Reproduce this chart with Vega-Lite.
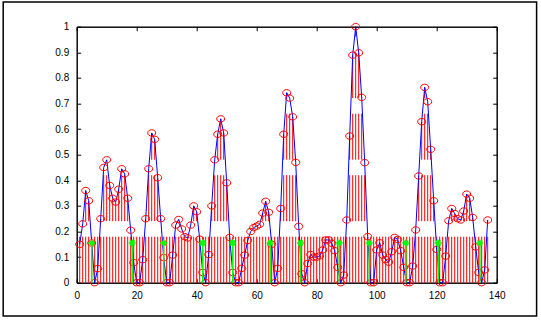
{
  "$schema": "https://vega.github.io/schema/vega-lite/v6.json",
  "width": 420,
  "height": 256,
  "autosize": "none",
  "padding": {"left": 76.7, "top": 26.7, "right": 44.3, "bottom": 37.3},
  "background": "white",
  "config": {
    "view": {"stroke": "black", "strokeWidth": 1},
    "axis": {"domainColor": "black", "domainWidth": 1, "tickColor": "black", "tickSize": -4, "tickWidth": 1, "labelFont": "Liberation Sans", "labelFontSize": 10, "labelColor": "black", "grid": false, "labelPadding": 12, "labelOverlap": false, "labelFlush": false}
  },
  "datasets": {
    "d": [
      {"x":1,"y":0.15,"s":0.2},{"x":2,"y":0.23,"s":0.23},{"x":3,"y":0.36,"s":0.36},{"x":4,"y":0.32,"s":0.32},{"x":5,"y":0.155,"s":0.2},
      {"x":6,"y":0,"s":0.2},{"x":7,"y":0.055,"s":0.2},{"x":8,"y":0.25,"s":0.25},{"x":9,"y":0.45,"s":0.45},{"x":10,"y":0.48,"s":0.48},
      {"x":11,"y":0.38,"s":0.38},{"x":12,"y":0.33,"s":0.33},{"x":13,"y":0.315,"s":0.315},{"x":14,"y":0.365,"s":0.365},{"x":15,"y":0.445,"s":0.445},
      {"x":16,"y":0.425,"s":0.425},{"x":17,"y":0.33,"s":0.33},{"x":18,"y":0.205,"s":0.205},{"x":19,"y":0.078,"s":0.2},{"x":20,"y":0,"s":0.2},
      {"x":21,"y":0,"s":0.2},{"x":22,"y":0.09,"s":0.2},{"x":23,"y":0.25,"s":0.25},{"x":24,"y":0.445,"s":0.445},{"x":25,"y":0.585,"s":0.585},
      {"x":26,"y":0.56,"s":0.56},{"x":27,"y":0.41,"s":0.41},{"x":28,"y":0.25,"s":0.25},{"x":29,"y":0.098,"s":0.2},{"x":30,"y":0,"s":0.2},
      {"x":31,"y":0,"s":0.2},{"x":32,"y":0.108,"s":0.2},{"x":33,"y":0.225,"s":0.225},{"x":34,"y":0.247,"s":0.247},{"x":35,"y":0.21,"s":0.21},
      {"x":36,"y":0.18,"s":0.2},{"x":37,"y":0.175,"s":0.2},{"x":38,"y":0.225,"s":0.225},{"x":39,"y":0.3,"s":0.3},{"x":40,"y":0.277,"s":0.277},
      {"x":41,"y":0.17,"s":0.2},{"x":42,"y":0.04,"s":0.2},{"x":43,"y":0,"s":0.2},{"x":44,"y":0.11,"s":0.2},{"x":45,"y":0.3,"s":0.3},
      {"x":46,"y":0.48,"s":0.48},{"x":47,"y":0.58,"s":0.58},{"x":48,"y":0.64,"s":0.64},{"x":49,"y":0.585,"s":0.585},{"x":50,"y":0.39,"s":0.39},
      {"x":51,"y":0.177,"s":0.2},{"x":52,"y":0.04,"s":0.2},{"x":53,"y":0,"s":0.2},{"x":54,"y":0,"s":0.2},{"x":55,"y":0.056,"s":0.2},
      {"x":56,"y":0.108,"s":0.2},{"x":57,"y":0.165,"s":0.2},{"x":58,"y":0.2,"s":0.2},{"x":59,"y":0.215,"s":0.215},{"x":60,"y":0.221,"s":0.221},
      {"x":61,"y":0.228,"s":0.228},{"x":62,"y":0.272,"s":0.272},{"x":63,"y":0.318,"s":0.318},{"x":64,"y":0.275,"s":0.275},{"x":65,"y":0.15,"s":0.2},
      {"x":66,"y":0,"s":0.2},{"x":67,"y":0.056,"s":0.2},{"x":68,"y":0.29,"s":0.29},{"x":69,"y":0.58,"s":0.58},{"x":70,"y":0.742,"s":0.742},
      {"x":71,"y":0.721,"s":0.721},{"x":72,"y":0.648,"s":0.648},{"x":73,"y":0.47,"s":0.47},{"x":74,"y":0.22,"s":0.22},{"x":75,"y":0.035,"s":0.2},
      {"x":76,"y":0,"s":0.2},{"x":77,"y":0.075,"s":0.2},{"x":78,"y":0.11,"s":0.2},{"x":79,"y":0.1,"s":0.2},{"x":80,"y":0.1,"s":0.2},
      {"x":81,"y":0.105,"s":0.2},{"x":82,"y":0.128,"s":0.2},{"x":83,"y":0.167,"s":0.2},{"x":84,"y":0.167,"s":0.2},{"x":85,"y":0.154,"s":0.2},
      {"x":86,"y":0.125,"s":0.2},{"x":87,"y":0.06,"s":0.2},{"x":88,"y":0,"s":0.2},{"x":89,"y":0.03,"s":0.2},{"x":90,"y":0.245,"s":0.245},
      {"x":91,"y":0.573,"s":0.573},{"x":92,"y":0.889,"s":0.889},{"x":93,"y":1.0,"s":1.0},{"x":94,"y":0.898,"s":0.898},{"x":95,"y":0.724,"s":0.724},
      {"x":96,"y":0.469,"s":0.469},{"x":97,"y":0.18,"s":0.2},{"x":98,"y":0,"s":0.2},{"x":99,"y":0,"s":0.2},{"x":100,"y":0.128,"s":0.2},
      {"x":101,"y":0.156,"s":0.2},{"x":102,"y":0.108,"s":0.2},{"x":103,"y":0.09,"s":0.2},{"x":104,"y":0.08,"s":0.2},{"x":105,"y":0.121,"s":0.2},
      {"x":106,"y":0.177,"s":0.2},{"x":107,"y":0.169,"s":0.2},{"x":108,"y":0.125,"s":0.2},{"x":109,"y":0.06,"s":0.2},{"x":110,"y":0,"s":0.2},
      {"x":111,"y":0,"s":0.2},{"x":112,"y":0.065,"s":0.2},{"x":113,"y":0.206,"s":0.206},{"x":114,"y":0.417,"s":0.417},{"x":115,"y":0.629,"s":0.629},
      {"x":116,"y":0.763,"s":0.763},{"x":117,"y":0.707,"s":0.707},{"x":118,"y":0.521,"s":0.521},{"x":119,"y":0.32,"s":0.32},{"x":120,"y":0.13,"s":0.2},
      {"x":121,"y":0,"s":0.2},{"x":122,"y":0,"s":0.2},{"x":123,"y":0.104,"s":0.2},{"x":124,"y":0.242,"s":0.242},{"x":125,"y":0.29,"s":0.29},
      {"x":126,"y":0.27,"s":0.27},{"x":127,"y":0.25,"s":0.25},{"x":128,"y":0.245,"s":0.245},{"x":129,"y":0.28,"s":0.28},{"x":130,"y":0.346,"s":0.346},
      {"x":131,"y":0.33,"s":0.33},{"x":132,"y":0.255,"s":0.255},{"x":133,"y":0.14,"s":0.2},{"x":134,"y":0.04,"s":0.2},{"x":135,"y":0,"s":0.2},
      {"x":136,"y":0.05,"s":0.2},{"x":137,"y":0.245,"s":0.245}
    ],
    "g": [
      {"x":5,"y":0.155},{"x":18.5,"y":0.155},{"x":29,"y":0.155},{"x":42,"y":0.155},{"x":52,"y":0.155},{"x":64.5,"y":0.155},
      {"x":74.6,"y":0.155},{"x":87.5,"y":0.155},{"x":97.5,"y":0.155},{"x":109.7,"y":0.155},{"x":120.5,"y":0.155},{"x":134.4,"y":0.155}
    ]
  },
  "layer": [
    {
      "data": {"name": "d"},
      "mark": {"type": "rule", "color": "#ff0000", "strokeWidth": 1, "strokeDash": [46, 15.5], "strokeDashOffset": {"expr": "46 - (scale('y', 0) - scale('y', datum.s))"}},
      "encoding": {
        "x": {"field": "x", "type": "quantitative", "scale": {"domain": [0, 140], "nice": false, "zero": false}, "axis": {"orient": "bottom", "values": [0,20,40,60,80,100,120,140], "title": null}},
        "y": {"field": "s", "type": "quantitative", "scale": {"domain": [0, 1], "nice": false, "zero": false}, "axis": {"orient": "left", "values": [0,0.1,0.2,0.3,0.4,0.5,0.6,0.7,0.8,0.9,1], "format": "~g", "title": null, "labelOverlap": false}},
        "y2": {"datum": 0}
      }
    },
    {
      "data": {"values": [{}]},
      "mark": {"type": "rect", "filled": false, "stroke": "black", "strokeWidth": 1.5, "clip": false},
      "encoding": {
        "x": {"datum": -24.5, "type": "quantitative", "axis": {"orient": "top", "values": [0,20,40,60,80,100,120,140], "labels": false, "title": null}},
        "x2": {"datum": 153.3},
        "y": {"datum": -0.13, "type": "quantitative", "axis": {"orient": "right", "values": [0,0.1,0.2,0.3,0.4,0.5,0.6,0.7,0.8,0.9,1], "labels": false, "title": null}},
        "y2": {"datum": 1.096}
      }
    },
    {
      "data": {"name": "d"},
      "mark": {"type": "line", "color": "#0000ff", "strokeWidth": 1},
      "encoding": {
        "x": {"field": "x", "type": "quantitative", "axis": null},
        "y": {"field": "y", "type": "quantitative", "axis": null}
      }
    },
    {
      "data": {"name": "d"},
      "mark": {"type": "point", "shape": "M-1,0A1,0.8 0 1,1 1,0A1,0.8 0 1,1 -1,0Z", "size": 64, "filled": false, "stroke": "#ff0000", "strokeWidth": 1, "opacity": 1},
      "encoding": {
        "x": {"field": "x", "type": "quantitative", "axis": null},
        "y": {"field": "y", "type": "quantitative", "axis": null}
      }
    },
    {
      "data": {"name": "g"},
      "mark": {"type": "rule", "color": "#00ff00", "strokeWidth": 1.5},
      "encoding": {
        "x": {"field": "x", "type": "quantitative", "axis": null},
        "y": {"field": "y", "type": "quantitative", "axis": null},
        "y2": {"datum": 0}
      }
    },
    {
      "data": {"name": "g"},
      "mark": {"type": "point", "shape": "M-1,0L1,0M0,-1L0,1M-0.7,-0.7L0.7,0.7M-0.7,0.7L0.7,-0.7", "size": 49, "filled": false, "stroke": "#00ff00", "strokeWidth": 1.5, "opacity": 1},
      "encoding": {
        "x": {"field": "x", "type": "quantitative", "axis": null},
        "y": {"field": "y", "type": "quantitative", "axis": null}
      }
    }
  ],
  "resolve": {"axis": {"x": "independent", "y": "independent"}}
}
